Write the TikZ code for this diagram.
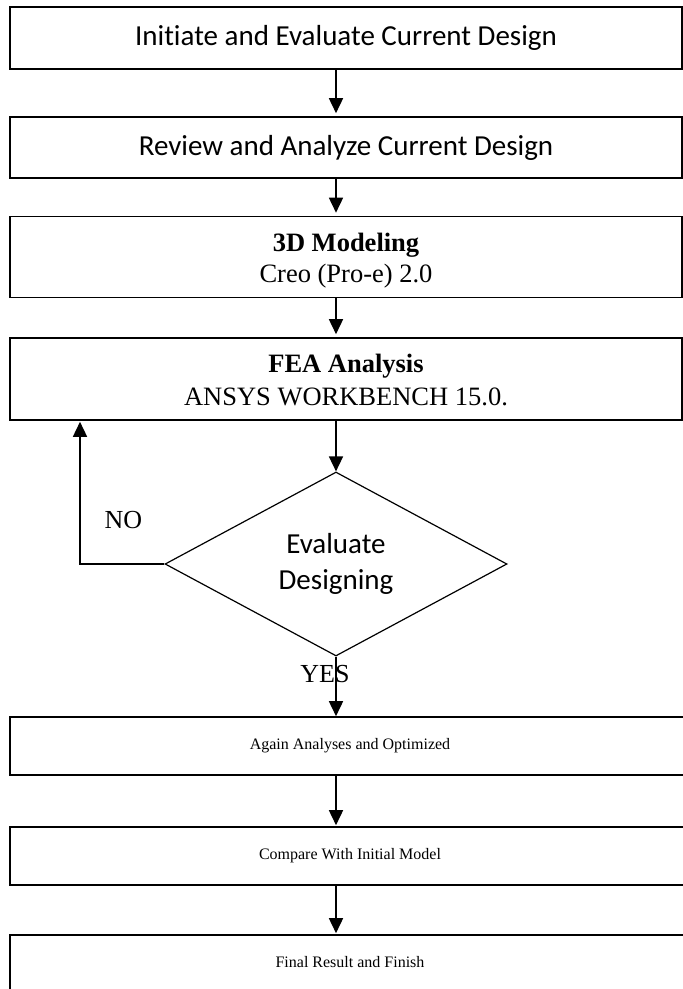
\documentclass[tikz,border=0pt]{standalone}
\usepackage{fontspec}
\setmainfont{Liberation Serif}
\newfontfamily\calfont[Ligatures=NoCommon]{Carlito}
\usetikzlibrary{arrows.meta,shapes.geometric}
\begin{document}
\begin{tikzpicture}[x=1pt,y=-1pt,
  box/.style={draw, line width=1.6pt, rectangle, inner sep=0pt, align=center},
  arr/.style={line width=1.6pt, -{Triangle[length=15pt,width=14pt]}, shorten >=3pt},
  bigsans/.style={font=\calfont\fontsize{29}{36}\selectfont},
  bigserif/.style={font=\fontsize{26.5}{31}\selectfont, inner sep=0pt, align=center},
  smallserif/.style={font=\fontsize{16}{19}\selectfont, text height=11pt, text depth=3.5pt},
  lbl/.style={font=\fontsize{26}{30}\selectfont, anchor=base, inner sep=0pt}]
\useasboundingbox (0,0) rectangle (683,989);
\clip (0,0) rectangle (683,989);
% boxes
\node[box, bigsans, minimum width=672pt, minimum height=62pt] (b1) at (346,38) {Initiate and Evaluate Current Design};
\node[box, bigsans, minimum width=672pt, minimum height=61pt] (b2) at (346,147.5) {Review and Analyze Current Design};
\node[box, minimum width=672pt, minimum height=81pt] (b3) at (346,257) {};
\node[bigserif] (t3) at (346,261) {\textbf{3D Modeling}\\Creo (Pro-e) 2.0};
\node[box, minimum width=672pt, minimum height=82pt] (b4) at (346,379) {};
\node[bigserif, font=\fontsize{26.5}{33}\selectfont] (t4) at (346,380) {\textbf{FEA Analysis}\\ANSYS WORKBENCH 15.0.};
\node[draw, diamond, line width=1.2pt, inner sep=0pt, minimum width=342pt, minimum height=184pt, align=center, bigsans] (d) at (336,564) {Evaluate\\Designing};
\node[box, smallserif, minimum width=680pt, minimum height=58pt] (b5) at (350,746) {Again Analyses and Optimized};
\node[box, smallserif, minimum width=680pt, minimum height=58pt] (b6) at (350,856) {Compare With Initial Model};
\node[box, smallserif, minimum width=680pt, minimum height=58pt] (b7) at (350,964) {Final Result and Finish};
\coordinate (c) at (80,564);
% connectors
\draw[arr] (b1.south -| d.north) -- (b2.north -| d.north);
\draw[arr] (b2.south -| d.north) -- (b3.north -| d.north);
\draw[arr] (b3.south -| d.north) -- (b4.north -| d.north);
\draw[arr, shorten >=0pt] (b4.south -| d.north) -- (d.north);
\draw[arr, shorten >=0pt] (d.south) -- (b5.north -| d.south);
\draw[arr, shorten >=1pt] (b5.south -| d.south) -- (b6.north -| d.south);
\draw[arr, shorten >=1pt] (b6.south -| d.south) -- (b7.north -| d.south);
\draw[arr, shorten >=1pt] (d.west) -- (c) -- (c |- b4.south);
% labels
\node[lbl] (no) at (123.5,528) {NO};
\node[lbl] (yes) at (325,682) {YES};
\end{tikzpicture}
\end{document}
